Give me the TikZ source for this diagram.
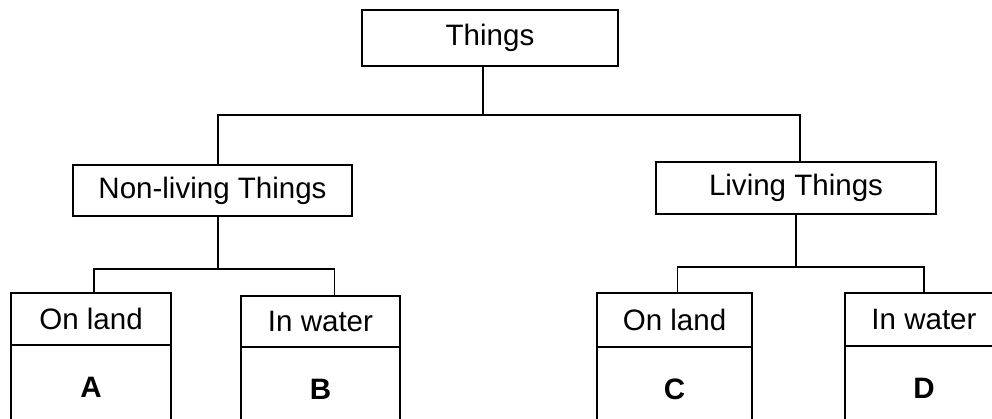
\documentclass[tikz,border=0pt]{standalone}
\usepackage{fontspec}
\setmainfont{Liberation Sans}
\usetikzlibrary{positioning}
\begin{document}
\begin{tikzpicture}[x=0.025cm,y=-0.025cm]
\tikzstyle{every node}+=[inner sep=0pt]
\tikzstyle{box}=[draw, rectangle, line width=1.1pt, outer sep=0pt, font=\fontsize{21}{24}\selectfont]
\tikzstyle{cell}=[box, minimum height=2.1cm, font=\fontsize{21}{24}\selectfont\bfseries]
\useasboundingbox (0,0) rectangle (992,419);
\clip (0,0) rectangle (992,419);
\node [box, minimum width=6.4cm, minimum height=1.4cm] (things) at (490,38) {Things};
\node [box, minimum width=6.975cm, minimum height=1.275cm] (nonliving) at (212.5,190.5) {Non-living Things};
\node [box, minimum width=7cm, minimum height=1.3cm] (living) at (796,188) {Living Things};
\node [box, minimum width=4cm, minimum height=1.3cm] (landA) at (91,319) {On land};
\node [cell, minimum width=4cm, below=0pt of landA] (cellA) {A};
\node [box, minimum width=3.975cm, minimum height=1.275cm] (waterB) at (320.5,321.5) {In water};
\node [cell, minimum width=3.975cm, below=0pt of waterB] (cellB) {B};
\node [box, minimum width=3.875cm, minimum height=1.35cm] (landC) at (674.5,320) {On land};
\node [cell, minimum width=3.875cm, below=0pt of landC] (cellC) {C};
\node [box, minimum width=3.95cm, minimum height=1.325cm] (waterD) at (924,319.5) {In water};
\node [cell, minimum width=3.95cm, below=0pt of waterD] (cellD) {D};
\draw [line width=1.1pt] ([xshift=-5pt]things.south) -- ++(0,49) coordinate (thingsj);
\draw [line width=1.1pt] ([xshift=4pt]nonliving.north) |- (thingsj) -| ([xshift=3pt]living.north);
\draw [line width=1.1pt] ([xshift=4pt]nonliving.south) -- ++(0,53) coordinate (nonlivingj);
\draw [line width=1.1pt] ([xshift=2pt]landA.north) |- (nonlivingj) -| ([xshift=10pt]waterB.north);
\draw [line width=1.1pt] (living.south) -- ++(0,53) coordinate (livingj);
\draw [line width=1.1pt] ([xshift=2pt]landC.north) |- (livingj) -| (waterD.north);
\end{tikzpicture}
\end{document}
